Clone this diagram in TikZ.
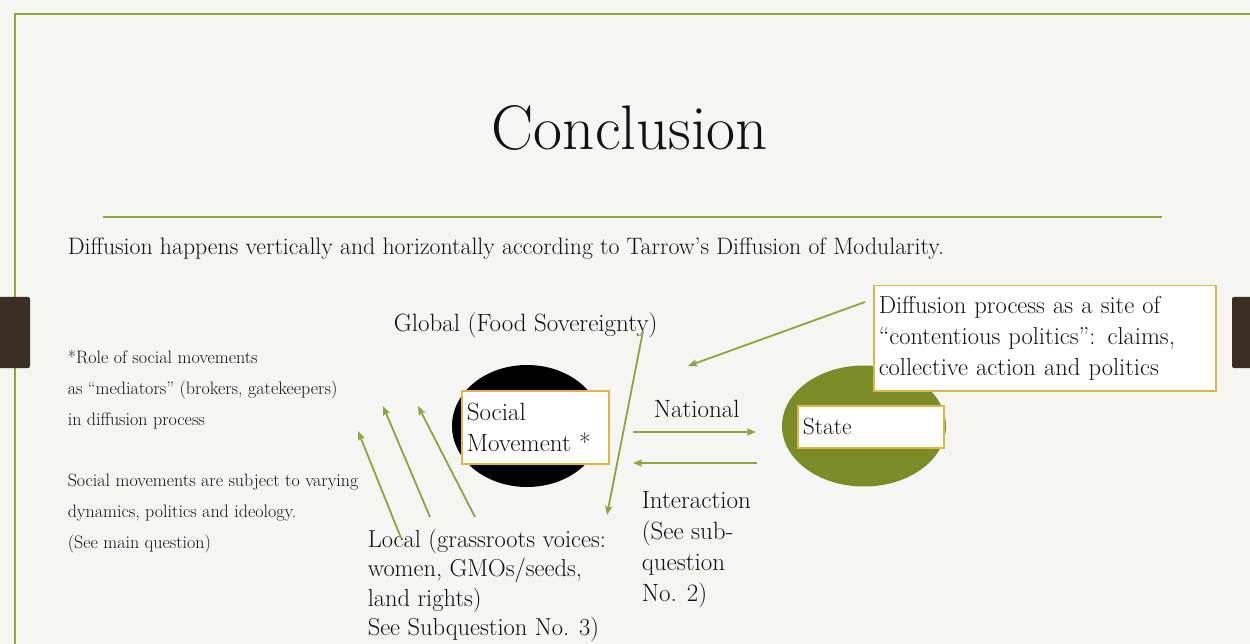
\documentclass[tikz,border=0pt]{standalone}
\usepackage{fontspec}
\usepackage{tikz}
\usetikzlibrary{arrows.meta,shapes.geometric}

\definecolor{paper}{HTML}{F5F5F3}
\definecolor{slidegreen}{HTML}{8DA53D}
\definecolor{stategreen}{HTML}{7A8B28}
\definecolor{boxgold}{HTML}{E2B448}
\definecolor{tabbrown}{HTML}{3A2E23}
\definecolor{inkgray}{HTML}{111111}

\newcommand{\fsz}[2]{\fontsize{#1}{#2}\selectfont}

\begin{document}
\begin{tikzpicture}[x=1pt,y=-1pt,>={Stealth[length=9pt,width=7pt,inset=1.5pt]},line width=1.5pt,
  every node/.style={text=inkgray,inner sep=0pt},
  flow/.style={->,color=slidegreen,line width=1.8pt},
  label/.style={align=left,anchor=north west,font=\fsz{25}{31}},
  note/.style={align=left,anchor=north west,font=\fsz{18}{31}},
  namebox/.style={draw=boxgold,line width=1.5pt,fill=white,align=left,anchor=north west,inner sep=0pt}]

  % slide background
  \useasboundingbox (0,0) rectangle (1250,644);
  \clip (0,0) rectangle (1250,644);
  \fill[paper] (0,0) rectangle (1250,644);
  \draw[slidegreen,line width=2.2pt] (15,650) -- (15,14) -- (1256,14);
  \fill[tabbrown,rounded corners=2pt] (-4,297) rectangle (30,368);
  \fill[tabbrown,rounded corners=2pt] (1232,297) rectangle (1256,368);

  \node (title) at (630,128) {\fsz{63}{66}Conclusion};
  \draw[slidegreen,line width=1.5pt] (103,217) -- (1162,217);
  \node [anchor=west] (intro) at (67,249) {\fsz{23.8}{28}Diffusion happens vertically and horizontally according to Tarrow's Diffusion of Modularity.};

  \node [note] (role) at (67,349) {*Role of social movements\\as ``mediators'' (brokers, gatekeepers)\\in diffusion process};
  \node [note] (subj) at (67,473) {Social movements are subject to varying\\dynamics, politics and ideology.\\(See main question)};

  \node [anchor=west] (global) at (393,325) {\fsz{25}{30}Global (Food Sovereignty)};

  \node [ellipse,fill=black,minimum width=150pt,minimum height=122pt] (sm) at (527,426) {};
  \node [ellipse,fill=stategreen,minimum width=164pt,minimum height=121pt] (st) at (864,426) {};

  \node [namebox,font=\fsz{25}{31},minimum width=147pt,minimum height=73pt,text width=137pt,inner xsep=5pt] (smbox) at (461,390) {Social\\Movement *};
  \node [namebox,font=\fsz{23.5}{31},minimum width=146pt,minimum height=42pt,text width=136pt,inner xsep=5pt] (stbox) at (797,405) {State};

  \node [namebox,font=\fsz{24.5}{31},minimum width=342pt,minimum height=105pt,text width=332pt,inner xsep=5pt] (diff) at (873,285) {Diffusion process as a site of\\``contentious politics'': claims,\\collective action and politics};

  \node [anchor=west] (nat) at (653,409) {\fsz{25}{30}National};
  \node [label] (inter) at (641,491) {Interaction\\(See sub-\\question\\No. 2)};
  \node [label,font=\fsz{24.5}{29.5}] (local) at (367,528) {Local (grassroots voices:\\women, GMOs/seeds,\\land rights)\\See Subquestion No. 3)};

  % free ends of the arrows
  \coordinate (l1) at (401,538);
  \coordinate (l1e) at (358,431);
  \coordinate (l2) at (430,517);
  \coordinate (l2e) at (383,406);
  \coordinate (l3) at (475,517);
  \coordinate (l3e) at (418,406);
  \coordinate (g1) at (643,331);
  \coordinate (g1e) at (607,515);
  \coordinate (n1) at (633,432);
  \coordinate (n1e) at (756,432);
  \coordinate (i1) at (757,463);
  \coordinate (i1e) at (633,463);
  \coordinate (d1) at (865,302);
  \coordinate (d1e) at (688,366);

  \path (l1) edge[flow] (l1e);
  \path (l2) edge[flow] (l2e);
  \path (l3) edge[flow] (l3e);
  \path (g1) edge[flow] (g1e);
  \path (n1) edge[flow] (n1e);
  \path (i1) edge[flow] (i1e);
  \path (d1) edge[flow] (d1e);

\end{tikzpicture}
\end{document}
